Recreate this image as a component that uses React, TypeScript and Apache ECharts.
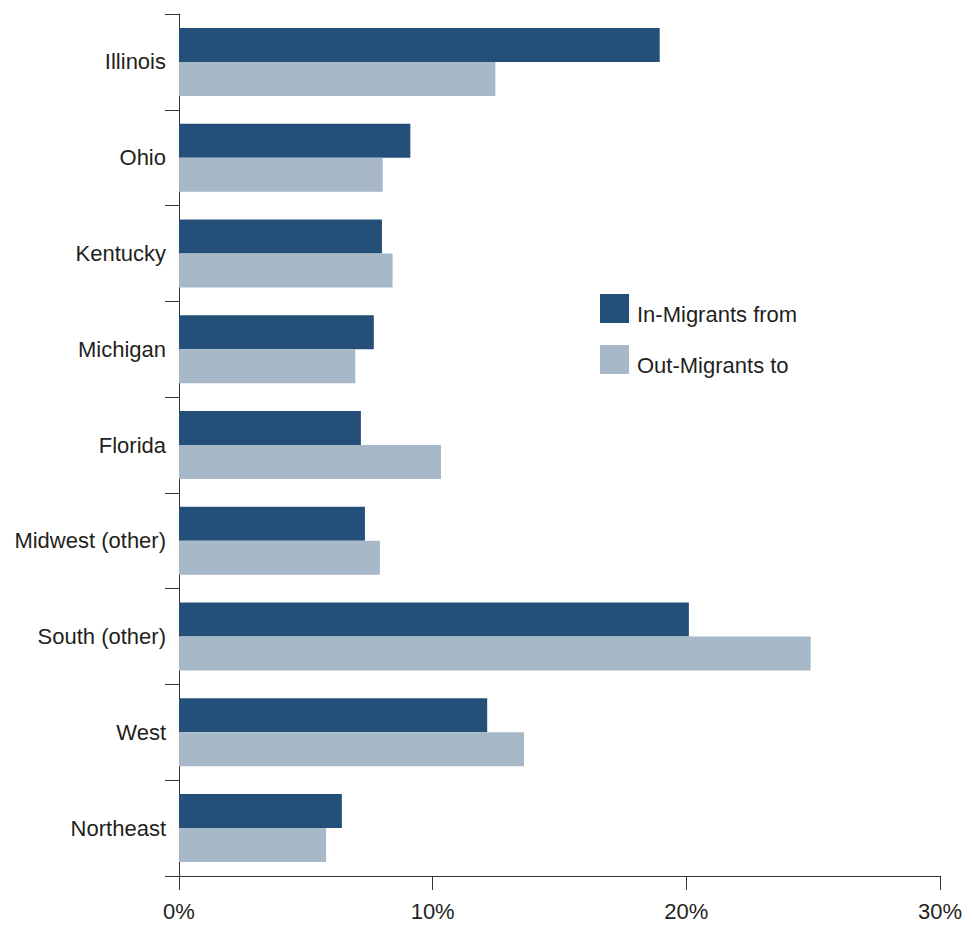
import React, { useEffect, useRef } from "react";
import * as echarts from "echarts";

const categories = [
  "Illinois",
  "Ohio",
  "Kentucky",
  "Michigan",
  "Florida",
  "Midwest (other)",
  "South (other)",
  "West",
  "Northeast",
];
const seriesNames = ["In-Migrants from", "Out-Migrants to"];
const inMigrants = [18.95, 9.12, 8.0, 7.68, 7.17, 7.33, 20.1, 12.15, 6.42];
const outMigrants = [12.47, 8.03, 8.42, 6.95, 10.33, 7.92, 24.9, 13.6, 5.8];
const xTicks = { min: 0, max: 30, interval: 10 };
const colors = ["#234f78", "#a7b9c9"];

export default function App() {
  const ref = useRef<HTMLDivElement>(null);
  useEffect(() => {
    const chart = echarts.init(ref.current!, null, { renderer: "svg" });
    const font = "'Liberation Sans', Arial, sans-serif";
    const legendItems = seriesNames.flatMap((name, i) => [
      {
        type: "rect",
        shape: { x: 600, y: 294 + i * 51, width: 29, height: 29 },
        style: { fill: colors[i] },
      },
      {
        type: "text",
        x: 637,
        y: 314 + i * 51,
        style: {
          text: name,
          fontSize: 22,
          fontFamily: font,
          fill: "#231f20",
          verticalAlign: "middle",
          align: "left",
        },
      },
    ]);
    chart.setOption({
      animation: false,
      textStyle: { fontFamily: font },
      grid: { left: 179, right: 33, top: 14, bottom: 52, containLabel: false },
      graphic: legendItems,
      xAxis: {
        type: "value",
        min: xTicks.min,
        max: xTicks.max,
        interval: xTicks.interval,
        axisLine: { show: true, lineStyle: { color: "#333", width: 1 } },
        axisTick: { show: true, length: 14, lineStyle: { color: "#333" } },
        splitLine: { show: false },
        axisLabel: {
          formatter: "{value}%",
          fontSize: 22,
          color: "#231f20",
          margin: 24,
          fontFamily: font,
        },
      },
      yAxis: {
        type: "category",
        inverse: true,
        data: categories,
        axisLine: { show: true, lineStyle: { color: "#333", width: 1 } },
        axisTick: { show: true, length: 14, alignWithLabel: false, lineStyle: { color: "#333" } },
        axisLabel: { fontSize: 22, color: "#231f20", margin: 13, fontFamily: font },
      },
      series: [
        {
          name: seriesNames[0],
          type: "bar",
          data: inMigrants,
          barWidth: 34,
          barGap: "0%",
          itemStyle: { color: colors[0] },
        },
        {
          name: seriesNames[1],
          type: "bar",
          data: outMigrants,
          barWidth: 34,
          barGap: "0%",
          itemStyle: { color: colors[1] },
        },
      ],
    });
    return () => chart.dispose();
  }, []);
  return <div ref={ref} style={{ width: 973, height: 928, margin: -8 }} />;
}
